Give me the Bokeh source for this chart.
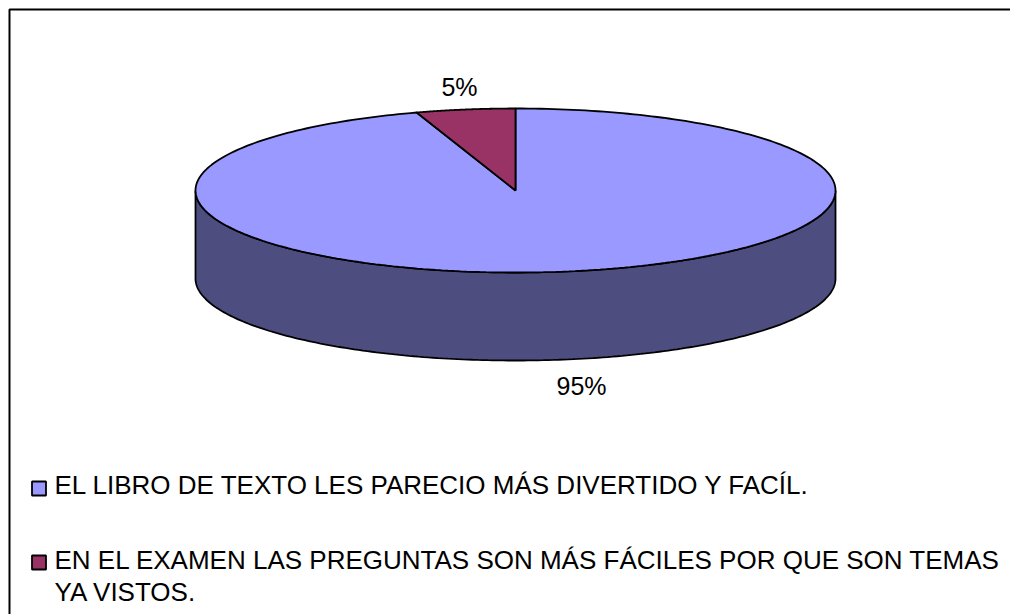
import numpy as np
from bokeh.plotting import figure
from bokeh.models import Range1d
from bokeh.core.properties import value
from bokeh.embed import file_html
from bokeh.resources import INLINE

categories = ["EL LIBRO DE TEXTO LES PARECIO MÁS DIVERTIDO Y FACÍL.",
              "EN EL EXAMEN LAS PREGUNTAS SON MÁS FÁCILES POR QUE SON TEMAS\nYA VISTOS."]
values = [95, 5]
labels = ["95%", "5%"]
colors = ["#9999FF", "#993366"]
side_color = "#4D4D80"

FONT = value("Liberation Sans")
W, H = 1010, 614
p = figure(width=W, height=H, output_backend="svg", toolbar_location=None,
           x_range=Range1d(0, W), y_range=Range1d(H, 0),
           min_border=0, outline_line_color=None, background_fill_color="white",
           border_fill_color="white")
p.axis.visible = False
p.grid.visible = False

# chart frame: only its top and left edges fall inside the picture
p.quad(left=[9], right=[W + 20], top=[9], bottom=[H + 20], fill_color=None,
       line_color="black", line_width=2)

cx, cy, rx, ry, depth = 515, 190, 320, 82, 88

def pt(t):
    # t = fraction of the turn, clockwise from the top
    a = 2 * np.pi * np.asarray(t)
    return cx + rx * np.sin(a), cy - ry * np.cos(a)

# side wall (front half of the ellipse)
t = np.linspace(0.25, 0.75, 200)
x, y = pt(t)
p.patch(np.r_[x, x[::-1]], np.r_[y, y[::-1] + depth], fill_color=side_color,
        line_color="black", line_width=1.8)

# top slices: first slice runs clockwise from the top
fr = np.array(values) / sum(values)
start = 0.0
for f, c in zip(fr, colors):
    t = np.linspace(start, start + f, 300)
    x, y = pt(t)
    p.patch(np.r_[cx, x], np.r_[cy, y], fill_color=c, line_color="black", line_width=1.8)
    start += f

# value labels
p.text([581], [385], text=[labels[0]], text_font=FONT, text_font_size="25px",
       text_align="center", text_baseline="middle", text_color="black")
p.text([459], [86], text=[labels[1]], text_font=FONT, text_font_size="25px",
       text_align="center", text_baseline="middle", text_color="black")

# legend
for (ky, c) in zip([488, 562], colors):
    p.scatter([38.5], [ky], marker="square", size=14, fill_color=c, line_color="black", line_width=1.8)
lines = categories[0:1] + categories[1].split("\n")
p.text([54, 54, 54], [484, 559, 591], text=lines, text_font=FONT, text_font_size="26px",
       text_align="left", text_baseline="middle", text_color="black")

open("out.html", "w").write(file_html(p, INLINE))
